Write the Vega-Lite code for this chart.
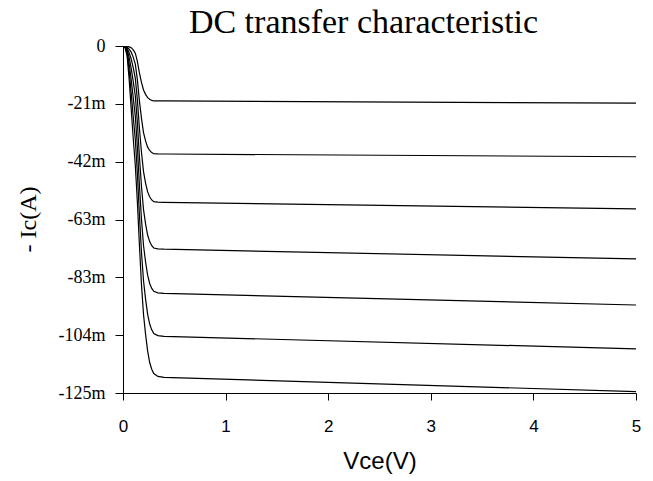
{
  "$schema": "https://vega.github.io/schema/vega-lite/v6.json",
  "width": 513,
  "height": 347,
  "autosize": "none",
  "padding": {"left": 123, "top": 46, "right": 17, "bottom": 88},
  "background": "white",
  "title": {"text": "DC transfer characteristic", "font": "Liberation Serif", "fontSize": 34, "fontWeight": "normal", "color": "black", "anchor": "middle", "frame": "group", "dx": -16, "baseline": "bottom", "offset": 0, "dy": 37},
  "config": {"view": {"stroke": null}},
  "datasets": {
    "curves": [
      {"c": 1, "v": 0, "i": 0}, {"c": 1, "v": 0.02, "i": 0}, {"c": 1, "v": 0.04, "i": -0.1}, {"c": 1, "v": 0.06, "i": -0.3}, {"c": 1, "v": 0.08, "i": -0.59}, {"c": 1, "v": 0.1, "i": -1.39}, {"c": 1, "v": 0.12, "i": -2.57}, {"c": 1, "v": 0.14, "i": -5.54}, {"c": 1, "v": 0.16, "i": -9.7}, {"c": 1, "v": 0.18, "i": -13.07}, {"c": 1, "v": 0.2, "i": -15.84}, {"c": 1, "v": 0.22, "i": -17.42}, {"c": 1, "v": 0.24, "i": -18.61}, {"c": 1, "v": 0.26, "i": -19.21}, {"c": 1, "v": 0.28, "i": -19.6}, {"c": 1, "v": 0.3, "i": -19.8}, {"c": 1, "v": 0.34, "i": -19.8}, {"c": 1, "v": 0.4, "i": -19.8}, {"c": 1, "v": 5, "i": -20.6},
      {"c": 2, "v": 0, "i": 0}, {"c": 2, "v": 0.02, "i": -0.03}, {"c": 2, "v": 0.04, "i": -0.36}, {"c": 2, "v": 0.06, "i": -1.13}, {"c": 2, "v": 0.08, "i": -2.2}, {"c": 2, "v": 0.1, "i": -4.08}, {"c": 2, "v": 0.12, "i": -6.55}, {"c": 2, "v": 0.14, "i": -12.12}, {"c": 2, "v": 0.16, "i": -19.77}, {"c": 2, "v": 0.18, "i": -26.06}, {"c": 2, "v": 0.2, "i": -31.19}, {"c": 2, "v": 0.22, "i": -34.17}, {"c": 2, "v": 0.24, "i": -36.44}, {"c": 2, "v": 0.26, "i": -37.64}, {"c": 2, "v": 0.28, "i": -38.41}, {"c": 2, "v": 0.3, "i": -38.82}, {"c": 2, "v": 0.34, "i": -38.88}, {"c": 2, "v": 0.4, "i": -38.9}, {"c": 2, "v": 5, "i": -39.9},
      {"c": 3, "v": 0, "i": 0}, {"c": 3, "v": 0.02, "i": -0.09}, {"c": 3, "v": 0.04, "i": -0.75}, {"c": 3, "v": 0.06, "i": -2.44}, {"c": 3, "v": 0.08, "i": -4.69}, {"c": 3, "v": 0.1, "i": -7.88}, {"c": 3, "v": 0.12, "i": -11.63}, {"c": 3, "v": 0.14, "i": -19.33}, {"c": 3, "v": 0.16, "i": -29.65}, {"c": 3, "v": 0.18, "i": -38.28}, {"c": 3, "v": 0.2, "i": -45.23}, {"c": 3, "v": 0.22, "i": -49.36}, {"c": 3, "v": 0.24, "i": -52.55}, {"c": 3, "v": 0.26, "i": -54.33}, {"c": 3, "v": 0.28, "i": -55.46}, {"c": 3, "v": 0.3, "i": -56.07}, {"c": 3, "v": 0.34, "i": -56.24}, {"c": 3, "v": 0.4, "i": -56.3}, {"c": 3, "v": 5, "i": -58.7},
      {"c": 4, "v": 0, "i": 0}, {"c": 4, "v": 0.02, "i": -0.18}, {"c": 4, "v": 0.04, "i": -1.28}, {"c": 4, "v": 0.06, "i": -4.21}, {"c": 4, "v": 0.08, "i": -8.05}, {"c": 4, "v": 0.1, "i": -12.81}, {"c": 4, "v": 0.12, "i": -17.93}, {"c": 4, "v": 0.14, "i": -27.45}, {"c": 4, "v": 0.16, "i": -39.89}, {"c": 4, "v": 0.18, "i": -50.51}, {"c": 4, "v": 0.2, "i": -58.93}, {"c": 4, "v": 0.22, "i": -64.05}, {"c": 4, "v": 0.24, "i": -68.08}, {"c": 4, "v": 0.26, "i": -70.46}, {"c": 4, "v": 0.28, "i": -71.92}, {"c": 4, "v": 0.3, "i": -72.76}, {"c": 4, "v": 0.34, "i": -73.09}, {"c": 4, "v": 0.4, "i": -73.2}, {"c": 4, "v": 5, "i": -76.7},
      {"c": 5, "v": 0, "i": 0}, {"c": 5, "v": 0.02, "i": -0.3}, {"c": 5, "v": 0.04, "i": -1.93}, {"c": 5, "v": 0.06, "i": -6.39}, {"c": 5, "v": 0.08, "i": -12.18}, {"c": 5, "v": 0.1, "i": -18.71}, {"c": 5, "v": 0.12, "i": -25.24}, {"c": 5, "v": 0.14, "i": -36.23}, {"c": 5, "v": 0.16, "i": -50.19}, {"c": 5, "v": 0.18, "i": -62.37}, {"c": 5, "v": 0.2, "i": -71.87}, {"c": 5, "v": 0.22, "i": -77.81}, {"c": 5, "v": 0.24, "i": -82.57}, {"c": 5, "v": 0.26, "i": -85.54}, {"c": 5, "v": 0.28, "i": -87.32}, {"c": 5, "v": 0.3, "i": -88.39}, {"c": 5, "v": 0.34, "i": -88.92}, {"c": 5, "v": 0.4, "i": -89.1}, {"c": 5, "v": 5, "i": -93.3},
      {"c": 6, "v": 0, "i": 0}, {"c": 6, "v": 0.02, "i": -0.44}, {"c": 6, "v": 0.04, "i": -2.7}, {"c": 6, "v": 0.06, "i": -8.98}, {"c": 6, "v": 0.08, "i": -17.08}, {"c": 6, "v": 0.1, "i": -25.63}, {"c": 6, "v": 0.12, "i": -33.65}, {"c": 6, "v": 0.14, "i": -45.85}, {"c": 6, "v": 0.16, "i": -60.84}, {"c": 6, "v": 0.18, "i": -74.27}, {"c": 6, "v": 0.2, "i": -84.55}, {"c": 6, "v": 0.22, "i": -91.18}, {"c": 6, "v": 0.24, "i": -96.58}, {"c": 6, "v": 0.26, "i": -100.15}, {"c": 6, "v": 0.28, "i": -102.25}, {"c": 6, "v": 0.3, "i": -103.55}, {"c": 6, "v": 0.34, "i": -104.34}, {"c": 6, "v": 0.4, "i": -104.6}, {"c": 6, "v": 5, "i": -109.1},
      {"c": 7, "v": 0, "i": 0}, {"c": 7, "v": 0.02, "i": -0.6}, {"c": 7, "v": 0.04, "i": -3.58}, {"c": 7, "v": 0.06, "i": -11.94}, {"c": 7, "v": 0.08, "i": -22.69}, {"c": 7, "v": 0.1, "i": -33.43}, {"c": 7, "v": 0.12, "i": -42.98}, {"c": 7, "v": 0.14, "i": -56.12}, {"c": 7, "v": 0.16, "i": -71.64}, {"c": 7, "v": 0.18, "i": -85.97}, {"c": 7, "v": 0.2, "i": -96.71}, {"c": 7, "v": 0.22, "i": -103.88}, {"c": 7, "v": 0.24, "i": -109.85}, {"c": 7, "v": 0.26, "i": -114.03}, {"c": 7, "v": 0.28, "i": -116.42}, {"c": 7, "v": 0.3, "i": -117.97}, {"c": 7, "v": 0.34, "i": -119.04}, {"c": 7, "v": 0.4, "i": -119.4}, {"c": 7, "v": 5, "i": -124.5}
    ]
  },
  "data": {"name": "curves"},
  "mark": {"type": "line", "color": "black", "strokeWidth": 1.2, "interpolate": "linear", "clip": true},
  "encoding": {
    "detail": {"field": "c", "type": "nominal"},
    "x": {
      "field": "v", "type": "quantitative",
      "scale": {"domain": [0, 5], "nice": false, "zero": false},
      "axis": {
        "values": [0, 1, 2, 3, 4, 5], "format": "d", "grid": false,
        "domainColor": "black", "domainWidth": 1, "tickColor": "black", "tickSize": 7,
        "labelFont": "Liberation Sans", "labelFontSize": 17, "labelColor": "black", "labelPadding": 18, "labelFlush": false,
        "title": "Vce(V)", "titleFont": "Liberation Sans", "titleFontSize": 24, "titleFontWeight": "normal", "titleColor": "black", "titlePadding": 15
      }
    },
    "y": {
      "field": "i", "type": "quantitative",
      "scale": {"domain": [-125, 0], "nice": false, "zero": false},
      "axis": {
        "values": [0, -20.8333, -41.6667, -62.5, -83.3333, -104.1667, -125],
        "labelExpr": "datum.value == 0 ? '0' : '-' + format(abs(datum.value), '.0f') + 'm'",
        "grid": false,
        "domainColor": "black", "domainWidth": 1, "tickColor": "black", "tickSize": 8,
        "labelFont": "Liberation Serif", "labelFontSize": 18, "labelColor": "black", "labelPadding": 10, "labelFlush": false,
        "title": "- Ic(A)", "titleFont": "Liberation Serif", "titleFontSize": 24, "titleFontWeight": "normal", "titleColor": "black",
        "titleX": -95, "titleY": 173, "titleAngle": -90, "titleAlign": "center", "titleBaseline": "middle"
      }
    }
  }
}
